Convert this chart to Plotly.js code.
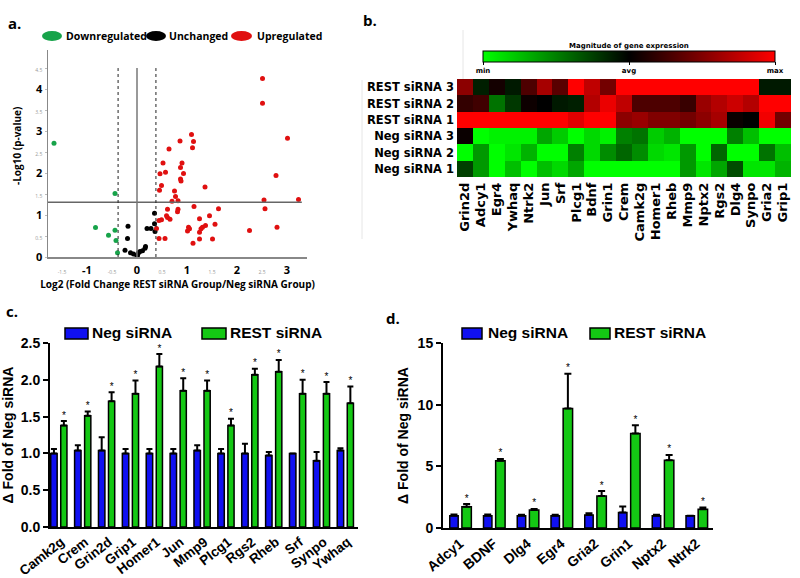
<!DOCTYPE html>
<html><head><meta charset="utf-8">
<script src="https://cdn.plot.ly/plotly-3.0.1.min.js"></script>
<style>html,body{margin:0;padding:0;background:#fff}#chart{width:800px;height:578px}</style>
</head><body><div id="chart"></div>
<script>
// ---------- Panel a: volcano data ----------
const downX = [-1.66,-0.44,-0.83,-0.44,-0.57,-0.42,-0.39];
const downY = [2.71,1.51,0.70,0.64,0.52,0.39,0.10];
const unchX = [-0.18,-0.19,-0.24,-0.13,-0.07,0.00,0.01,0.03,0.06,0.11,0.16,0.17,0.20,0.28,0.35,0.35,0.36];
const unchY = [0.73,0.44,0.16,0.10,0.07,0.02,0.05,0.10,0.13,0.15,0.21,0.25,0.68,0.68,1.04,0.79,0.61];
const upX = [2.51,2.51,3.01,1.09,1.13,1.11,0.86,0.64,0.52,0.90,0.87,0.93,0.87,0.88,0.57,0.46,0.49,0.45,1.36,0.75,0.77,0.82,0.70,2.78,2.54,3.23,2.56,2.80,2.25,1.14,1.63,0.82,0.81,0.61,0.59,0.61,0.66,0.49,0.44,0.39,1.25,1.45,1.37,1.31,1.28,1.25,1.56,1.03,1.05,1.01,1.12,1.25,1.51,0.44,0.56];
const upY = [4.25,3.66,2.83,2.92,2.75,2.60,2.76,2.57,2.24,2.24,2.13,1.99,1.86,1.81,2.02,1.98,1.70,1.59,1.67,1.57,1.44,1.34,1.33,1.94,1.36,1.37,1.15,0.71,0.63,1.20,1.15,1.14,1.08,1.14,0.98,0.94,0.90,0.89,0.87,0.68,0.91,0.98,0.75,0.71,0.67,0.59,0.78,0.71,0.67,0.62,0.33,0.43,0.43,0.44,0.44];
const foldThreshold = 0.3785;   // log2(1.3)
const pThreshold = 1.301;       // -log10(0.05)
const bigTicksX = [-1,0,1,2,3];
const smallTicksX = [-1.5,-0.5,0.5,1.5,2.5];
const bigTicksY = [0,1,2,3,4];
const smallTicksY = [0.5,1.5,2.5,3.5,4.5];

// ---------- Panel b: heatmap data ----------
const heatGenes = ['Grin2d','Adcy1','Egr4','Ywhaq','Ntrk2','Jun','Srf','Plcg1','Bdnf','Grin1','Crem','Camk2g','Homer1','Rheb','Mmp9','Nptx2','Rgs2','Dlg4','Synpo','Gria2','Grip1'];
const heatSamples = ['REST siRNA 3','REST siRNA 2','REST siRNA 1','Neg siRNA 3','Neg siRNA 2','Neg siRNA 1'];
const rest3 = [0.55,-0.12,0.08,-0.10,0.30,0.65,0.35,1.00,0.75,0.45,1.00,1.00,1.00,1.00,1.00,1.00,1.00,1.00,1.00,-0.10,-0.10];
const rest2 = [0.20,0.25,-0.45,-0.22,0.05,0.00,-0.10,-0.12,0.70,0.92,0.75,0.30,0.30,0.30,0.22,0.60,0.70,0.80,0.70,1.00,1.00];
const rest1 = [1.00,1.00,1.00,1.00,1.00,1.00,1.00,0.88,1.00,1.00,0.55,0.60,0.50,0.50,0.45,0.55,0.65,0.04,0.00,0.95,0.45];
const neg3  = [0.04,-1.00,-0.95,-0.95,-0.95,-0.65,-0.80,-1.00,-0.85,-0.95,-0.50,-0.45,-0.80,-0.70,-1.00,-1.00,-1.00,-0.50,-0.75,-1.00,-1.00];
const neg2  = [-1.00,-0.60,-1.00,-0.90,-0.70,-1.00,-1.00,-0.50,-0.85,-0.55,-0.40,-0.55,-0.85,-0.90,-0.60,-1.00,-0.40,-1.00,-1.00,-0.45,-0.75];
const neg1  = [-0.25,-0.60,-1.00,-0.75,-1.00,-0.75,-0.85,-0.65,-1.00,-1.00,-1.00,-1.00,-1.00,-1.00,-0.60,-0.90,-0.65,-0.30,-0.90,-0.90,-0.70];

// ---------- Panel c ----------
const genesC = ['Camk2g','Crem','Grin2d','Grip1','Homer1','Jun','Mmp9','Plcg1','Rgs2','Rheb','Srf','Synpo','Ywhaq'];
const negC = [1.00,1.04,1.04,1.00,1.00,1.00,1.04,1.00,1.00,0.97,1.00,0.90,1.04];
const negCErr = [0.06,0.07,0.18,0.06,0.06,0.06,0.07,0.06,0.13,0.05,0.00,0.12,0.03];
const restC = [1.38,1.51,1.71,1.81,2.18,1.85,1.85,1.38,2.07,2.11,1.81,1.81,1.68];
const restCErr = [0.06,0.06,0.12,0.18,0.17,0.17,0.14,0.09,0.08,0.16,0.19,0.16,0.23];

// ---------- Panel d ----------
const genesD = ['Adcy1','BDNF','Dlg4','Egr4','Gria2','Grin1','Nptx2','Ntrk2'];
const negD = [1.00,1.00,1.00,1.00,1.05,1.25,1.00,1.00];
const negDErr = [0.10,0.10,0.08,0.08,0.15,0.50,0.08,0.00];
const restD = [1.72,5.45,1.45,9.68,2.59,7.66,5.50,1.53];
const restDErr = [0.22,0.15,0.10,2.82,0.41,0.68,0.42,0.13];

// ---------- helpers ----------
const W = 800, H = 578;
const px = x => x / W;
const py = y => 1 - y / H;
const BLUE = '#1010f2', GREEN = '#14c814';
const ARIAL = 'Liberation Sans, Arial, sans-serif';
const DEJAVU = 'DejaVu Sans, sans-serif';
const OPEN = 'Open Sans, sans-serif';
const idx = arr => arr.map((_, i) => i);
const zeros = arr => arr.map(() => 0);
const sum = (a, b) => a.map((v, i) => v + b[i]);

const traces = [];
// volcano
const vol = (x, y, c) => ({type:'scatter', mode:'markers', x, y, xaxis:'x', yaxis:'y',
  marker:{color:c, size:5}, cliponaxis:false, hoverinfo:'skip', showlegend:false});
traces.push(vol(downX, downY, '#17a34a'));
traces.push(vol(unchX, unchY, '#000000'));
traces.push(vol(upX, upY, '#e01010'));

// heatmap
traces.push({type:'heatmap', x: heatGenes, y: heatSamples,
  z: [rest3, rest2, rest1, neg3, neg2, neg1], xaxis:'x2', yaxis:'y2',
  zmin:-1, zmax:1,
  colorscale:[[0,'#00ff00'],[0.5,'#000000'],[1,'#ff0000']],
  hoverinfo:'skip',
  colorbar:{orientation:'h', x:px(629), xanchor:'center', y:py(51), yanchor:'top',
    len:292/800, lenmode:'fraction', thickness:11, thicknessmode:'pixels',
    outlinecolor:'#000', outlinewidth:1, xpad:0, ypad:0,
    tickvals:[-1,0,1], ticktext:['min','avg','max'], ticks:'outside', ticklen:3, tickcolor:'#000',
    ticklabelposition:'outside bottom',
    tickfont:{family:DEJAVU, size:7, color:'#000', weight:700}}
});

function barPanel(genes, neg, negErr, rest, restErr, xa, ya, bOff, bW, gOff, gW, capW) {
  const xs = idx(genes);
  traces.push({type:'bar', x:xs, y:neg, xaxis:xa, yaxis:ya, offset:bOff, width:bW,
    marker:{color:BLUE, line:{color:'#000', width:1.5}},
    error_y:{type:'data', array:negErr, arrayminus:zeros(negErr), symmetric:false, color:'#000', thickness:2, width:capW},
    hoverinfo:'skip', showlegend:false});
  traces.push({type:'bar', x:xs, y:rest, xaxis:xa, yaxis:ya, offset:gOff, width:gW,
    marker:{color:GREEN, line:{color:'#000', width:1.5}},
    error_y:{type:'data', array:restErr, arrayminus:zeros(restErr), symmetric:false, color:'#000', thickness:2, width:capW},
    hoverinfo:'skip', showlegend:false});
  traces.push({type:'scatter', mode:'text', x:xs.map(i => i + gOff + gW/2), y:sum(rest, restErr),
    text:genes.map(() => '*'), textposition:'top center', xaxis:xa, yaxis:ya, cliponaxis:false,
    textfont:{family:ARIAL, size:10, color:'#000000'}, hoverinfo:'skip', showlegend:false});
}
barPanel(genesC, negC, negCErr, restC, restCErr, 'x3', 'y3', 0.03, 0.27, 0.45, 0.26, 3);
barPanel(genesD, negD, negDErr, restD, restDErr, 'x4', 'y4', 0.20, 0.25, 0.56, 0.28, 3.5);

// panel a tick text
const smallSpan = v => '<span style="font-size:5px;font-weight:normal;fill:#999">' + v + '</span>';
const aTicksX = bigTicksX.concat(smallTicksX);
const aTextX = bigTicksX.map(v => String(v)).concat(smallTicksX.map(smallSpan));
const aTicksY = bigTicksY.concat(smallTicksY);
const aTextY = bigTicksY.map(v => String(v)).concat(smallTicksY.map(smallSpan));

const layout = {
  width:W, height:H, margin:{l:0,r:0,t:0,b:0}, paper_bgcolor:'#fff', plot_bgcolor:'rgba(0,0,0,0)',
  showlegend:false, barmode:'overlay',
  font:{family:ARIAL, color:'#000'},
  xaxis:{domain:[px(48), px(307)], anchor:'y', range:[-1.78, 3.4], showgrid:false, zeroline:false,
    showline:true, linecolor:'#888', linewidth:1.5, tickmode:'array', tickvals:aTicksX, ticktext:aTextX,
    ticks:'', tickfont:{family:OPEN, size:11, color:'#000', weight:700}, ticklabelstandoff:2,
    title:{text:'<b>Log2 (Fold Change REST siRNA Group/Neg siRNA Group)</b>', font:{family:OPEN, size:10, color:'#000'}, standoff:5}},
  yaxis:{domain:[py(257), py(50)], anchor:'x', range:[0, 4.93], showgrid:false, zeroline:false,
    showline:true, linecolor:'#888', linewidth:1.5, tickmode:'array', tickvals:aTicksY, ticktext:aTextY,
    ticks:'outside', ticklen:2, tickcolor:'#bbb', tickfont:{family:OPEN, size:11, color:'#000', weight:700}},
  xaxis2:{domain:[px(457), px(791)], anchor:'y2', showgrid:false, zeroline:false, showline:false, ticks:'',
    tickmode:'array', tickvals:heatGenes, ticktext:heatGenes,
    tickangle:-90, tickfont:{family:DEJAVU, size:13, color:'#000', weight:700}, ticklabelstandoff:2},
  yaxis2:{domain:[py(177), py(79)], anchor:'x2', autorange:'reversed', showgrid:false, zeroline:false,
    showline:false, ticks:'', tickmode:'array', tickvals:heatSamples, ticktext:heatSamples,
    tickfont:{family:DEJAVU, size:11.5, color:'#000', weight:700}, ticklabelstandoff:2},
  xaxis3:{domain:[px(50), px(358)], anchor:'y3', range:[0, 12.9], showgrid:false, zeroline:false,
    showline:true, linecolor:'#000', linewidth:2, tickmode:'array', tickvals:idx(genesC).map(i => i + 0.47),
    ticktext:genesC, ticks:'', tickangle:-38, tickfont:{family:ARIAL, size:13.5, color:'#000', weight:700}},
  yaxis3:{domain:[py(527), py(343)], anchor:'x3', range:[0, 2.5], dtick:0.5, tickformat:'.1f', showgrid:false,
    zeroline:false, showline:true, linecolor:'#000', linewidth:2, ticks:'outside', ticklen:5, tickwidth:2, tickcolor:'#000',
    tickfont:{family:ARIAL, size:14, color:'#000', weight:700},
    title:{text:'<b>Δ Fold of Neg siRNA</b>', font:{family:ARIAL, size:14, color:'#000'}, standoff:6}},
  xaxis4:{domain:[px(443), px(713)], anchor:'y4', range:[0, 8], showgrid:false, zeroline:false,
    showline:true, linecolor:'#000', linewidth:2, tickmode:'array', tickvals:idx(genesD).map(i => i + 0.5),
    ticktext:genesD, ticks:'', tickangle:-40, tickfont:{family:ARIAL, size:14, color:'#000', weight:700}},
  yaxis4:{domain:[py(528), py(343)], anchor:'x4', range:[0, 15], dtick:5, showgrid:false,
    zeroline:false, showline:true, linecolor:'#000', linewidth:2, ticks:'outside', ticklen:5, tickwidth:2, tickcolor:'#000',
    tickfont:{family:ARIAL, size:14, color:'#000', weight:700},
    title:{text:'<b>Δ Fold of Neg siRNA</b>', font:{family:ARIAL, size:14, color:'#000'}, standoff:6}},
  shapes:[
    {type:'line', xref:'x domain', yref:'y', x0:0, x1:0.98, y0:pThreshold, y1:pThreshold, line:{color:'#666', width:1.5}},
    {type:'line', xref:'x', yref:'y', x0:0, x1:0, y0:0, y1:4.5, line:{color:'#777', width:1.5}},
    {type:'line', xref:'x', yref:'y', x0:-foldThreshold, x1:-foldThreshold, y0:0, y1:4.5, line:{color:'#222', width:1, dash:'dot'}},
    {type:'line', xref:'x', yref:'y', x0:foldThreshold, x1:foldThreshold, y0:0, y1:4.5, line:{color:'#222', width:1, dash:'dot'}},
    // legend ovals panel a
    {type:'circle', xref:'paper', yref:'paper', x0:px(42), x1:px(62), y0:py(41), y1:py(31), fillcolor:'#17a34a', line:{width:0}},
    {type:'circle', xref:'paper', yref:'paper', x0:px(146), x1:px(166), y0:py(41), y1:py(31), fillcolor:'#000', line:{width:0}},
    {type:'circle', xref:'paper', yref:'paper', x0:px(231), x1:px(252), y0:py(41), y1:py(31), fillcolor:'#e01010', line:{width:0}},
    // legend boxes panels c,d
    {type:'rect', xref:'paper', yref:'paper', x0:px(65), x1:px(88), y0:py(339), y1:py(328), fillcolor:BLUE, line:{color:'#000', width:1.5}},
    {type:'rect', xref:'paper', yref:'paper', x0:px(202), x1:px(226), y0:py(339), y1:py(328), fillcolor:GREEN, line:{color:'#000', width:1.5}},
    {type:'rect', xref:'paper', yref:'paper', x0:px(462), x1:px(482), y0:py(339), y1:py(328), fillcolor:BLUE, line:{color:'#000', width:1.5}},
    {type:'rect', xref:'paper', yref:'paper', x0:px(590), x1:px(610), y0:py(339), y1:py(328), fillcolor:GREEN, line:{color:'#000', width:1.5}},
    // faint frames panel b
    {type:'line', xref:'paper', yref:'paper', x0:px(362), x1:px(362), y0:py(80), y1:py(239), line:{color:'#e6e6e6', width:1}},
    {type:'line', xref:'paper', yref:'paper', x0:px(463), x1:px(463), y0:py(30), y1:py(79), line:{color:'#e6e6e6', width:1}}
  ],
  annotations:[
    {text:'<b>a.</b>', x:px(6), y:py(23), xref:'paper', yref:'paper', xanchor:'left', yanchor:'middle', showarrow:false, font:{family:OPEN, size:15}},
    {text:'<b>b.</b>', x:px(361), y:py(20), xref:'paper', yref:'paper', xanchor:'left', yanchor:'middle', showarrow:false, font:{family:OPEN, size:15}},
    {text:'<b>c.</b>', x:px(4), y:py(311), xref:'paper', yref:'paper', xanchor:'left', yanchor:'middle', showarrow:false, font:{family:OPEN, size:15}},
    {text:'<b>d.</b>', x:px(384), y:py(318), xref:'paper', yref:'paper', xanchor:'left', yanchor:'middle', showarrow:false, font:{family:OPEN, size:15}},
    {text:'<b>-Log10 (p-value)</b>', x:px(17), y:py(146), xref:'paper', yref:'paper', xanchor:'center', yanchor:'middle', textangle:-90, showarrow:false, font:{family:OPEN, size:10}},
    {text:'<b>Magnitude of gene expression</b>', x:px(629), y:py(46), xref:'paper', yref:'paper', xanchor:'center', yanchor:'middle', showarrow:false, font:{family:DEJAVU, size:7}},
    {text:'<b>Downregulated</b>', x:px(64), y:py(36), xref:'paper', yref:'paper', xanchor:'left', yanchor:'middle', showarrow:false, font:{family:OPEN, size:10.5}},
    {text:'<b>Unchanged</b>', x:px(167), y:py(36), xref:'paper', yref:'paper', xanchor:'left', yanchor:'middle', showarrow:false, font:{family:OPEN, size:10.5}},
    {text:'<b>Upregulated</b>', x:px(255), y:py(36), xref:'paper', yref:'paper', xanchor:'left', yanchor:'middle', showarrow:false, font:{family:OPEN, size:10.5}},
    {text:'<b>Neg siRNA</b>', x:px(90), y:py(333), xref:'paper', yref:'paper', xanchor:'left', yanchor:'middle', showarrow:false, font:{family:ARIAL, size:15.5}},
    {text:'<b>REST siRNA</b>', x:px(228), y:py(333), xref:'paper', yref:'paper', xanchor:'left', yanchor:'middle', showarrow:false, font:{family:ARIAL, size:15.5}},
    {text:'<b>Neg siRNA</b>', x:px(486), y:py(333), xref:'paper', yref:'paper', xanchor:'left', yanchor:'middle', showarrow:false, font:{family:ARIAL, size:15.5}},
    {text:'<b>REST siRNA</b>', x:px(612), y:py(333), xref:'paper', yref:'paper', xanchor:'left', yanchor:'middle', showarrow:false, font:{family:ARIAL, size:15.5}}
  ]
};
Plotly.newPlot('chart', traces, layout, {staticPlot:true, displayModeBar:false});
</script></body></html>
